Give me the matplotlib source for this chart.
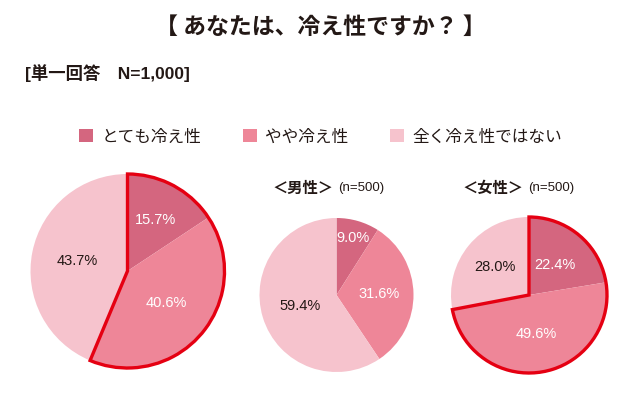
import matplotlib
matplotlib.use("Agg")
import matplotlib.pyplot as plt
from matplotlib.patches import Patch, Wedge
import numpy as np

plt.rcParams['font.family'] = ['Noto Sans CJK JP', 'DejaVu Sans']
latin = ['Liberation Sans', 'Noto Sans CJK JP']

# データ
categories = ["とても冷え性", "やや冷え性", "全く冷え性ではない"]
total_vals = [15.7, 40.6, 43.7]
male_vals = [9.0, 31.6, 59.4]
female_vals = [22.4, 49.6, 28.0]

title = "【 あなたは、冷え性ですか？ 】"
subtitle = "[単一回答　N=1,000]"
male_title = "＜男性＞"
female_title = "＜女性＞"
n_text = "(n=500)"

colors = ["#d4667f", "#ee8698", "#f6c3cd"]
txt_colors = ["white", "white", "#231815"]
dark = "#231815"
red = "#e50012"

W, H = 640, 400
fig = plt.figure(figsize=(6.4, 4.0), dpi=100)


def add_pie(cx, cy, r, vals, dists, outline):
    ax = fig.add_axes([(cx - r) / W, (H - cy - r) / H, 2 * r / W, 2 * r / H])
    wedges, texts, autotexts = ax.pie(
        vals, colors=colors, startangle=90, counterclock=False,
        autopct=lambda p: f"{p:.1f}%", pctdistance=0.55,
        wedgeprops=dict(linewidth=0),
        textprops=dict(fontsize=10.5, family=latin))
    # ラベル位置の調整
    for w, t, d, c in zip(wedges, autotexts, dists, txt_colors):
        ang = np.deg2rad((w.theta1 + w.theta2) / 2)
        t.set_position((d * np.cos(ang), d * np.sin(ang)))
        t.set_color(c)
    if outline:
        th1 = 90 - 360 * (vals[0] + vals[1]) / sum(vals)
        ax.add_patch(Wedge((0, 0), 1, th1, 90, fill=False, edgecolor=red,
                           linewidth=2.4, joinstyle="miter", clip_on=False))
    ax.set_xlim(-1, 1)
    ax.set_ylim(-1, 1)
    ax.set_aspect("equal")
    ax.axis("off")
    return ax


add_pie(127.5, 271, 97, total_vals, [0.6, 0.52, 0.53], True)
add_pie(336.5, 295, 77, male_vals, [0.77, 0.55, 0.5], False)
add_pie(529, 295, 78, female_vals, [0.51, 0.51, 0.56], True)

fig.text(0.5, 1 - 27 / H, title, ha="center", va="center",
         fontsize=16.5, fontweight="bold", color=dark)
fig.text(25 / W, 1 - 73 / H, subtitle, ha="left", va="center",
         fontsize=12.5, fontweight="bold", color=dark, family=latin)

for x0, t in [(272, male_title), (462, female_title)]:
    fig.text(x0 / W, 1 - 188 / H, t, ha="left", va="center",
             fontsize=11, fontweight="bold", color=dark)
    fig.text((x0 + 66) / W, 1 - 188 / H, n_text, ha="left", va="center",
             fontsize=9.5, color=dark, family=latin)

handles = [Patch(facecolor=c, edgecolor="none") for c in colors]
fig.legend(handles, categories, ncol=3, loc="center",
           bbox_to_anchor=((78 + 563) / 2 / W, 1 - 137 / H),
           frameon=False, fontsize=12, labelcolor=dark,
           handlelength=0.85, handleheight=0.85, handletextpad=0.5,
           columnspacing=2.5)

fig.savefig("out.png", dpi=100, facecolor="white")
